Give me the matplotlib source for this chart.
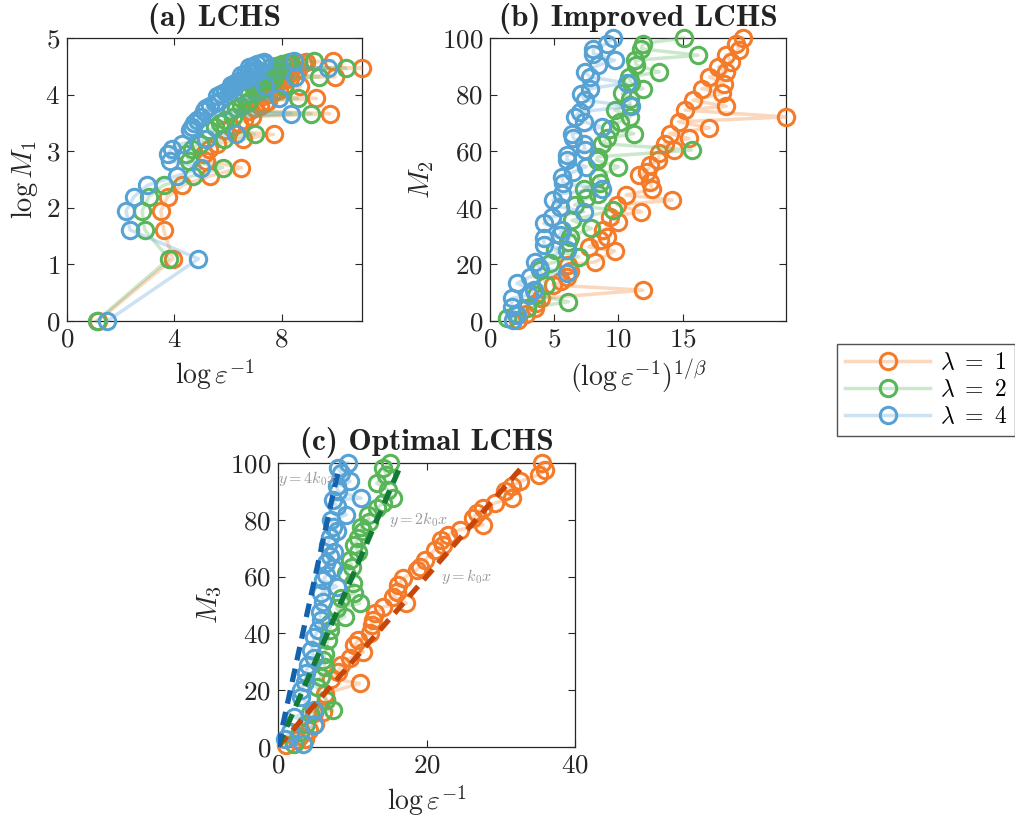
import numpy as np
import matplotlib
matplotlib.use("Agg")
import matplotlib.pyplot as plt
from matplotlib.lines import Line2D

plt.rcParams['font.family'] = 'serif'
plt.rcParams['font.serif'] = ['cmr10', 'DejaVu Serif']
plt.rcParams['mathtext.fontset'] = 'cm'
plt.rcParams['axes.formatter.use_mathtext'] = True
plt.rcParams['axes.unicode_minus'] = False

# ---------------- data ----------------
labels = [r'$\lambda\ =\ 1$', r'$\lambda\ =\ 2$', r'$\lambda\ =\ 4$']

# panel (a): M1 values (odd) and log(1/eps) per lambda
M_a = [1, 3, 5, 7, 9, 11, 13, 15, 17, 19, 21, 23, 25, 27, 29, 31, 33, 35, 37, 39,
       41, 43, 45, 47, 49, 51, 53, 55, 57, 59, 61, 63, 65, 67, 69, 71, 73, 75, 77, 79,
       81, 83, 85, 87, 89, 91, 93, 95, 97, 99]
xa_l1 = [1.15, 3.95, 3.6, 3.5, 3.75, 4.3, 5.35, 6.5, 5.2, 5.1, 5.3, 5.6, 6.55, 7.7, 5.9,
         6.1, 6.4, 6.6, 6.9, 9.8, 6.8, 7.0, 7.2, 7.4, 7.5, 9.3, 7.3, 7.5, 7.7, 7.9, 8.1,
         8.7, 7.5, 7.7, 7.9, 8.1, 8.3, 10.0, 7.9, 8.1, 8.3, 8.5, 8.6, 11.0, 8.2, 8.4,
         8.6, 8.8, 8.9, 9.9]
xa_l2 = [1.1, 3.8, 2.9, 2.8, 3.05, 3.6, 4.7, 5.8, 4.55, 4.45, 4.65, 4.95, 5.85, 7.0, 5.3,
         5.5, 5.7, 5.9, 6.2, 9.1, 6.1, 6.3, 6.5, 6.7, 6.8, 8.6, 6.6, 6.8, 7.0, 7.2, 7.4,
         8.1, 6.9, 7.1, 7.3, 7.5, 7.7, 9.4, 7.3, 7.5, 7.7, 7.9, 8.0, 10.4, 7.6, 7.8,
         8.0, 8.2, 8.3, 9.2]
xa_l4 = [1.5, 4.9, 2.35, 2.2, 2.5, 3.0, 4.1, 5.0, 3.85, 3.75, 3.9, 4.3, 5.2, 6.3, 4.6,
         4.65, 4.75, 4.85, 5.0, 8.35, 5.1, 5.2, 5.35, 5.5, 5.65, 7.9, 5.6, 5.75, 5.9,
         6.05, 6.2, 7.4, 6.1, 6.25, 6.4, 6.55, 6.7, 8.5, 6.5, 6.65, 6.8, 6.95, 7.1, 9.75,
         6.8, 6.95, 7.1, 7.25, 7.35, 8.45]

# panel (b): (log 1/eps)^(1/beta) and M2
xb_l1 = [2.2, 2.8, 3.5, 3.6, 4.0, 11.9, 4.9, 5.5, 5.97, 6.2, 6.1, 8.2, 9.7, 7.7, 8.6, 9.1,
         8.8, 10.0, 9.35, 11.8, 9.9, 14.2, 10.6, 12.6, 12.5, 11.6, 12.2, 12.5, 13.1, 13.2,
         14.3, 13.6, 15.5, 14.0, 17.1, 14.7, 23.06, 15.2, 18.4, 15.8, 18.1, 16.5, 18.2,
         17.1, 18.4, 17.8, 18.8, 18.4, 19.4, 19.2, 19.7]
yb_l1 = [0.4, 2.5, 4.5, 6.2, 8.0, 10.9, 12.7, 14.0, 15.6, 17.5, 19.8, 20.9, 24.8, 26.2,
         28.6, 29.8, 32.1, 35.1, 36.8, 38.6, 41.0, 42.7, 44.5, 46.5, 49.2, 51.5, 52.7,
         55.1, 56.8, 59.2, 60.4, 62.7, 64.5, 66.2, 68.2, 70.4, 72.1, 74.5, 75.9, 78.0,
         80.4, 82.1, 83.9, 86.2, 88.0, 89.8, 91.5, 94.0, 95.6, 98.0, 100.0]
xb_l2 = [1.3, 2.0, 2.9, 6.1, 3.6, 4.4, 3.9, 4.7, 6.9, 5.1, 6.1, 6.2, 7.9, 6.4, 9.6, 6.6,
         7.5, 8.4, 7.3, 8.6, 8.4, 10.0, 8.3, 8.4, 15.7, 8.7, 9.1, 11.2, 9.35, 10.1, 10.9,
         9.74, 10.9, 10.9, 10.3, 11.9, 11.0, 10.8, 13.2, 11.4, 11.3, 16.2, 11.8, 11.9, 15.1]
yb_l2 = [0.9, 2.5, 4.5, 6.8, 9.2, 12.7, 18.0, 20.4, 22.7, 25.0, 28.0, 29.8, 32.7, 35.6,
         39.2, 41.0, 43.3, 45.0, 46.8, 48.6, 50.9, 54.5, 56.8, 58.0, 60.4, 62.7, 64.5,
         66.2, 68.0, 70.4, 72.1, 74.5, 76.5, 78.6, 80.4, 82.1, 84.1, 86.2, 88.0, 90.4,
         92.1, 93.9, 96.2, 98.0, 100.0]
xb_l4 = [1.8, 2.1, 1.7, 1.7, 3.0, 3.4, 2.1, 3.1, 6.0, 3.8, 3.5, 6.0, 4.2, 4.2, 5.45, 5.6,
         4.2, 4.8, 7.3, 5.45, 4.9, 5.6, 8.7, 5.7, 5.6, 6.5, 7.5, 6.0, 6.0, 7.4, 7.3, 6.5,
         6.4, 8.7, 7.3, 6.6, 7.0, 11.0, 7.4, 7.1, 7.8, 10.65, 7.8, 7.4, 8.45, 9.7, 8.05,
         8.05, 9.1, 9.6]
yb_l4 = [0.4, 2.1, 5.0, 8.0, 9.2, 10.9, 13.3, 15.6, 16.8, 19.2, 20.9, 25.0, 26.8, 29.2,
         30.4, 32.1, 34.5, 36.8, 38.6, 40.4, 42.7, 45.0, 46.8, 48.6, 50.9, 52.7, 54.5,
         56.8, 58.6, 60.4, 62.7, 64.5, 66.2, 68.6, 70.4, 72.1, 73.9, 75.9, 78.0, 80.1,
         82.1, 84.1, 86.2, 88.0, 90.4, 92.1, 94.5, 96.2, 98.0, 100.0]

# panel (c): log(1/eps) and M3
xc_l1 = [1.1, 2.5, 3.6, 3.0, 4.2, 5.0, 4.9, 6.0, 6.5, 6.3, 11.0, 7.2, 8.1, 8.5, 9.7, 11.5,
         10.3, 10.8, 12.4, 12.6, 12.8, 13.0, 14.2, 17.3, 15.5, 16.0, 16.2, 16.9, 18.7, 19.1,
         19.8, 21.1, 22.2, 22.0, 22.9, 24.5, 27.6, 26.3, 26.8, 27.6, 29.2, 31.5, 30.6, 31.5,
         32.6, 35.1, 36.0, 35.5]
yc_l1 = [0.6, 2.4, 2.9, 4.0, 6.0, 8.0, 11.8, 12.5, 16.5, 18.8, 22.4, 24.1, 26.5, 28.8,
         31.2, 33.5, 35.9, 37.6, 40.0, 42.9, 44.7, 47.1, 49.4, 50.6, 52.9, 54.7, 57.1, 59.4,
         62.4, 63.5, 65.9, 69.4, 71.2, 72.9, 74.7, 76.5, 78.2, 80.6, 82.4, 84.1, 85.9, 87.6,
         90.0, 91.8, 93.5, 95.9, 97.6, 100.0]
xc_l2 = [2.2, 2.9, 3.8, 4.3, 7.4, 6.5, 5.2, 5.8, 6.3, 6.1, 6.3, 6.7, 7.0, 7.0, 9.0, 7.9,
         11.0, 8.5, 10.3, 10.1, 9.2, 9.9, 9.7, 10.8, 10.3, 10.8, 11.5, 11.2, 12.3, 12.1,
         13.3, 14.2, 15.5, 14.8, 13.3, 14.6, 14.2, 15.1]
yc_l2 = [1.2, 5.3, 8.2, 11.8, 12.9, 16.5, 21.2, 24.7, 28.2, 30.6, 32.9, 37.6, 41.2, 43.5,
         45.9, 48.8, 50.6, 52.5, 54.1, 57.6, 61.2, 63.5, 65.9, 68.8, 71.2, 73.5, 75.9, 77.6,
         79.4, 81.8, 84.1, 85.9, 87.6, 90.6, 92.9, 95.9, 98.2, 100.0]
xc_l4 = [3.4, 0.9, 1.6, 4.9, 2.2, 4.9, 3.1, 3.1, 3.6, 3.8, 4.0, 4.9, 4.5, 4.9, 5.4, 5.8,
         5.6, 6.1, 5.8, 7.9, 6.1, 6.5, 7.4, 6.5, 7.0, 7.6, 6.7, 7.0, 7.9, 7.4, 7.2, 9.2,
         7.9, 7.4, 11.2, 8.1, 7.9, 9.7, 8.5, 8.1, 9.4]
yc_l4 = [1.2, 2.9, 5.3, 7.6, 10.6, 12.9, 17.6, 20.0, 22.9, 25.9, 28.8, 31.2, 34.1, 38.8,
         41.2, 44.7, 47.6, 51.2, 54.1, 56.5, 58.8, 60.6, 62.9, 64.7, 67.1, 68.8, 71.2, 74.1,
         75.9, 77.6, 80.0, 81.8, 84.7, 87.0, 87.6, 90.0, 91.8, 93.5, 96.5, 98.2, 100.0]

# reference lines y = m*k0*x in panel (c)
k0 = 3.0
fit_mult = [1, 2, 4]
fit_xmax = [33.0, 16.4, 8.1]
fit_labels = [r'$y = k_0x$', r'$y = 2k_0x$', r'$y = 4k_0x$']
fit_label_pos = [(21.9, 60.0), (15.0, 80.0), (0.0, 94.5)]

# ---------------- style ----------------
cols = ['#F47B2A', '#58B558', '#56A2D4']
fit_cols = ['#C9460A', '#137A38', '#1462AE']
def light(c, a=0.3):
    r, g, b, _ = matplotlib.colors.to_rgba(c)
    return (r, g, b, a)

W, H = 1015, 817
fig = plt.figure(figsize=(W / 100, H / 100), dpi=100)
axA = fig.add_axes([67 / W, 1 - 321 / H, 295 / W, 283 / H])
axB = fig.add_axes([490 / W, 1 - 321 / H, 296 / W, 283 / H])
axC = fig.add_axes([278 / W, 1 - 747 / H, 297 / W, 284 / H])

fs = 19.5
tick_col = '#262626'
MS, MEW = 11.8, 2.2

def series(ax, x, y, i):
    ax.plot(x, y, '-o', color=light(cols[i]), lw=2.5, mec=cols[i], mfc='none',
            ms=MS, mew=MEW, clip_on=False, zorder=3 + i)

ya = np.log(np.array(M_a, dtype=float))
for i, xs in enumerate([xa_l1, xa_l2, xa_l4]):
    series(axA, xs, ya, i)
for i, (xs, ys) in enumerate([(xb_l1, yb_l1), (xb_l2, yb_l2), (xb_l4, yb_l4)]):
    series(axB, xs, ys, i)
for i, (xs, ys) in enumerate([(xc_l1, yc_l1), (xc_l2, yc_l2), (xc_l4, yc_l4)]):
    series(axC, xs, ys, i)

for m, xm, c in zip(fit_mult, fit_xmax, fit_cols):
    xx = np.array([0.0, xm])
    axC.plot(xx, m * k0 * xx, '--', color=c, lw=3.8, dashes=(2.6, 1.6), zorder=10)
for txt, (tx, ty) in zip(fit_labels, fit_label_pos):
    axC.text(tx, ty, txt, fontsize=11.5, color='#9a9a9a', va='center', ha='left', zorder=11)

axA.set_xlim(0, 11); axA.set_ylim(0, 5)
axA.set_xticks([0, 4, 8]); axA.set_yticks([0, 1, 2, 3, 4, 5])
axB.set_xlim(0, 23.06); axB.set_ylim(0, 100)
axB.set_xticks([0, 5, 10, 15]); axB.set_yticks([0, 20, 40, 60, 80, 100])
axC.set_xlim(0, 40); axC.set_ylim(0, 100)
axC.set_xticks([0, 20, 40]); axC.set_yticks([0, 20, 40, 60, 80, 100])

titles = ['(a) LCHS', '(b) Improved LCHS', '(c) Optimal LCHS']
xlabels = [r'$\log\varepsilon^{-1}$', r'$(\log\varepsilon^{-1})^{1/\beta}$', r'$\log\varepsilon^{-1}$']
ylabels = [r'$\log M_1$', r'$M_2$', r'$M_3$']
for ax, t, xl, yl in zip([axA, axB, axC], titles, xlabels, ylabels):
    ax.set_title(t, fontsize=22.5, pad=9, color='#222222', fontfamily=['cmb10', 'DejaVu Serif'])
    ax.set_xlabel(xl, fontsize=20, color=tick_col, labelpad=4)
    ax.set_ylabel(yl, fontsize=20.5, color=tick_col, labelpad=4)
    ax.tick_params(direction='in', top=True, right=True, length=5, width=0.8,
                   labelsize=fs, colors=tick_col, pad=5)
    for s in ax.spines.values():
        s.set_color(tick_col)
        s.set_linewidth(0.9)

handles = [Line2D([0], [0], color=light(c), lw=2.5, marker='o', mec=c, mfc='none',
                  ms=MS, mew=MEW) for c in cols]
leg = fig.legend(handles, labels, loc='upper left', bbox_to_anchor=(837 / W, 1 - 344 / H),
                 fontsize=17, frameon=True, fancybox=False, handlelength=3.6,
                 borderpad=0.35, labelspacing=0.2, handletextpad=0.4, borderaxespad=0)
leg.get_frame().set_edgecolor(tick_col)
leg.get_frame().set_linewidth(1.0)

fig.savefig('out.png', dpi=100)
